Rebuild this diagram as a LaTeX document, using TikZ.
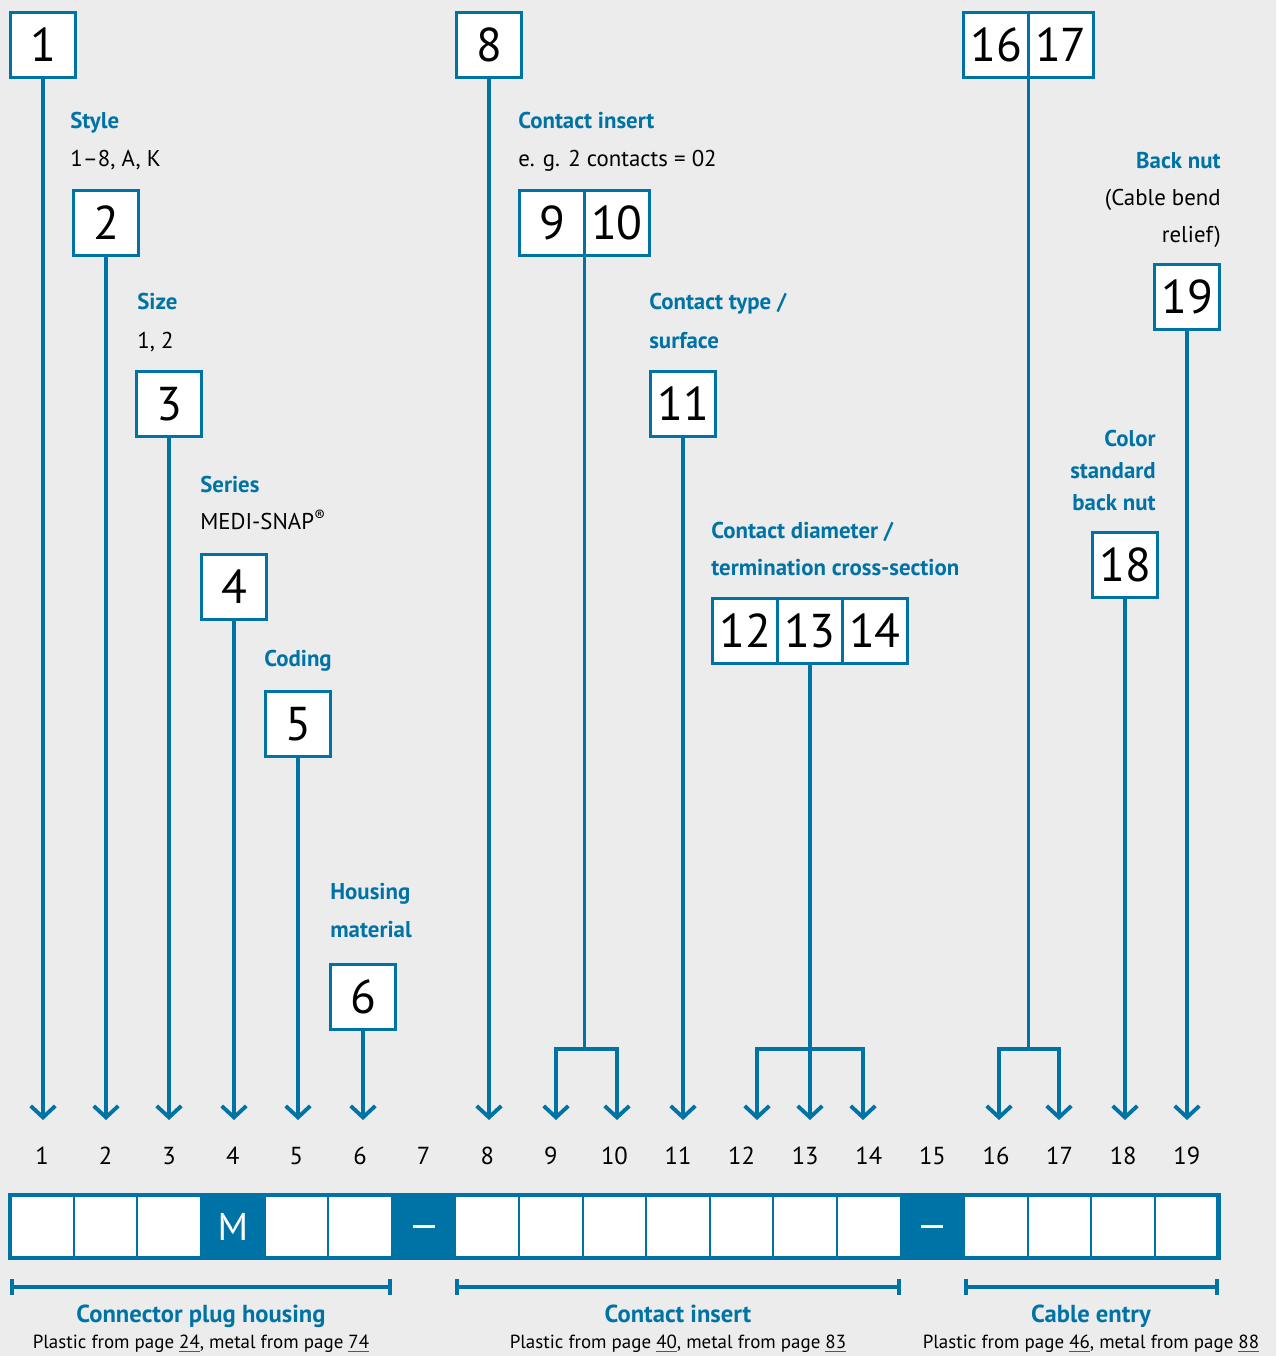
\documentclass[tikz,border=0pt]{standalone}
\usepackage{fontspec}
\setmainfont{PT Sans}
\usepackage{xcolor}
\usetikzlibrary{positioning, arrows.meta}
\definecolor{mblue}{RGB}{0,115,166}
\definecolor{bggray}{RGB}{236,236,236}
\newcommand{\pgref}[1]{\textcolor{mblue}{\underline{\textcolor{black}{#1}}}}
\newcommand{\sepdash}{\rule{0.44cm}{1.6pt}}

\begin{document}
\begin{tikzpicture}[
    x=0.02cm, y=-0.02cm,
    numbox/.style={rectangle, draw=mblue, line width=1.4pt, fill=white, minimum size=1.3cm, inner sep=0pt, outer sep=0pt, font=\fontsize{27}{27}\selectfont},
    head/.style={anchor=west, text=mblue, inner sep=0pt, text height=9.1pt, text depth=0pt, font=\fontsize{13}{13}\selectfont\bfseries},
    note/.style={head, text=black, font=\fontsize{13}{13}\selectfont},
    group/.style={text=mblue, inner sep=0pt, text height=9.5pt, text depth=0pt, font=\fontsize{14}{14}\selectfont\bfseries},
    source/.style={inner sep=0pt, text height=7.5pt, text depth=0pt, font=\fontsize{10.8}{10.8}\selectfont},
    colnum/.style={inner sep=0pt, font=\fontsize{14}{14}\selectfont},
    cell/.style={rectangle, draw=mblue, line width=1.2pt, fill=white, minimum width=1.272cm, minimum height=1.26cm, inner sep=0pt, outer sep=0pt, font=\fontsize{22}{22}\selectfont},
    marked/.style={cell, fill=mblue, text=white},
    lead/.style={draw=mblue, line width=2.2pt},
    pointer/.style={lead, -{Straight Barb[length=6.5pt, width=14pt]}},
    span/.style={lead, {Bar[width=9pt]}-{Bar[width=9pt]}}
]

% Hintergrund
\fill[bggray] (0,0) rectangle (1276,1356);

% Hilfskoordinaten
\coordinate (tip) at (0,1120);
\coordinate (fork) at (0,1049);
\coordinate (brk) at (0,1287);

% Kennziffern oben
\node[numbox] (b1) at (43,45) {1};
\node[numbox] (b2) at (106,223) {2};
\node[numbox] (b3) at (169,404) {3};
\node[numbox] (b4) at (234,587) {4};
\node[numbox] (b5) at (298,724) {5};
\node[numbox] (b6) at (363,997) {6};
\node[numbox] (b8) at (489,45) {8};
\node[numbox] (b9) at (552,223) {9};
\node[numbox, right=0pt of b9] (b10) {10};
\node[numbox] (b11) at (683,404) {11};
\node[numbox] (b12) at (745,631) {12};
\node[numbox, right=0pt of b12] (b13) {13};
\node[numbox, right=0pt of b13] (b14) {14};
\node[numbox] (b16) at (996,45) {16};
\node[numbox, right=0pt of b16] (b17) {17};
\node[numbox] (b18) at (1125,565) {18};
\node[numbox] (b19) at (1187,297) {19};

% Beschriftungen
\node[head] (style) at (70,121) {Style};
\node[note] (stylev) at (70,159) {1–8, A, K};
\node[head] (size) at (137,302) {Size};
\node[note] (sizev) at (137,340) {1, 2};
\node[head] (series) at (200,484) {Series};
\node[note] (seriesv) at (200,521) {MEDI-SNAP\textsuperscript{®}};
\node[head] (coding) at (264,658) {Coding};
\node[head] (housing) at (330,891) {Housing};
\node[head] (housingb) at (330,929) {material};
\node[head] (insert) at (518,121) {Contact insert};
\node[note] (insertv) at (518,159) {e. g. 2 contacts = 02};
\node[head] (ctype) at (649,302) {Contact type /};
\node[head] (ctypeb) at (649,340) {surface};
\node[head] (cdia) at (711,530) {Contact diameter /};
\node[head] (cdiab) at (711,567) {termination cross-section};
\node[head, anchor=east] (backnut) at (1221,161) {Back nut};
\node[note, anchor=east] (backnutv) at (1221,198) {(Cable bend};
\node[note, anchor=east] (backnutw) at (1221,235) {relief)};
\node[head, anchor=east] (color) at (1156,438) {Color};
\node[head, anchor=east] (colorb) at (1156,470) {standard};
\node[head, anchor=east] (colorc) at (1156,502) {back nut};

% Pfeilspitzen der Verzweigungen
\coordinate (t9) at (556,1120);
\coordinate (t10) at (617,1120);
\coordinate (t12) at (757,1120);
\coordinate (t14) at (863,1120);
\coordinate (t16) at (999,1120);
\coordinate (t17) at (1059,1120);

% Verbindungen
\foreach \k in {1,2,3,4,5,6,8,11,18,19}
    \draw[pointer] (b\k) -- (b\k |- tip);
\draw[pointer] (b9.south east) |- (t9 |- fork) -- (t9);
\draw[pointer] (b9.south east |- fork) -| (t10);
\draw[pointer] (b13) -- (b13 |- tip);
\draw[pointer] (b13 |- fork) -| (t12);
\draw[pointer] (b13 |- fork) -| (t14);
\draw[pointer] (b16.south east) |- (t16 |- fork) -- (t16);
\draw[pointer] (b16.south east |- fork) -| (t17);

% Stellennummern und Typenschluessel
\foreach \i in {1,...,19} {
    \node[colnum] (n\i) at ({42+(\i-1)*63.6},1156) {\i};
    \node[cell] (c\i) at ({42+(\i-1)*63.6},1226.5) {};
}
\node[marked] (m4) at (c4) {M};
\node[marked] (d7) at (c7) {\sepdash};
\node[marked] (d15) at (c15) {\sepdash};
\draw[mblue, line width=2.4pt] (c1.north west) rectangle (c19.south east);

% Gruppen
\draw[span] (c1.west |- brk) -- (c6.east |- brk);
\draw[span] (c8.west |- brk) -- (c14.east |- brk);
\draw[span] (c16.west |- brk) -- (c19.east |- brk);

\node[group] (grp1) at (201,1314) {Connector plug housing};
\node[source] (src1) at (201,1342) {Plastic from page \pgref{24}, metal from page \pgref{74}};
\node[group] (grp2) at (678,1314) {Contact insert};
\node[source] (src2) at (678,1342) {Plastic from page \pgref{40}, metal from page \pgref{83}};
\node[group] (grp3) at (1091,1314) {Cable entry};
\node[source] (src3) at (1091,1342) {Plastic from page \pgref{46}, metal from page \pgref{88}};

\end{tikzpicture}
\end{document}
